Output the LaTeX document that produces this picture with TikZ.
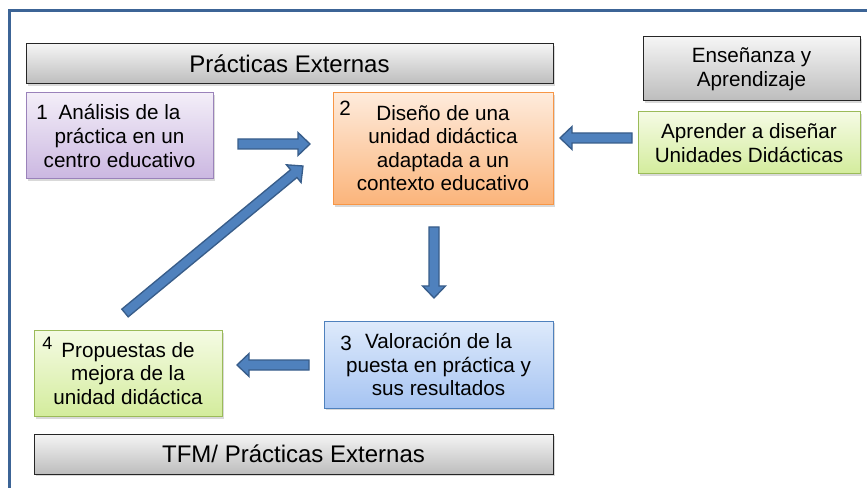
\documentclass[tikz,border=0pt]{standalone}
\usepackage{fontspec}
\setmainfont{Liberation Sans}
\usetikzlibrary{calc,shadows}

\definecolor{framebl}{HTML}{3C6496}
\definecolor{arrfill}{HTML}{4F81BD}
\definecolor{arrdraw}{HTML}{385D8A}
\definecolor{purtop}{HTML}{F3EEF8}
\definecolor{purbot}{HTML}{CBB7E1}
\definecolor{purdraw}{HTML}{9A82BA}
\definecolor{orgtop}{HTML}{FEEBDC}
\definecolor{orgbot}{HTML}{FBB47A}
\definecolor{orgdraw}{HTML}{F79646}
\definecolor{grntop}{HTML}{F5FBE4}
\definecolor{grnbot}{HTML}{D3EC9C}
\definecolor{grndraw}{HTML}{9BBB59}
\definecolor{blutop}{HTML}{DEEAFB}
\definecolor{blubot}{HTML}{A6C4F2}
\definecolor{bludraw}{HTML}{4F81BD}

% block arrow between two named coordinates
\newcommand{\blockarrow}[2]{%
  \coordinate (ba-c) at ($(#2)!9pt!(#1)$);
  \filldraw[blockarr] ($(#1)!3.75pt!90:(#2)$) -- ($(ba-c)!3.75pt!-90:(#1)$)
    -- ($(ba-c)!8.6pt!-90:(#1)$) -- (#2) -- ($(ba-c)!8.6pt!90:(#1)$)
    -- ($(ba-c)!3.75pt!90:(#1)$) -- ($(#1)!3.75pt!-90:(#2)$) -- cycle;
}

\tikzset{
  box/.style={draw, rectangle, inner sep=0pt, align=center, line width=0.75pt,
    font=\fontsize{15.5}{17.7}\selectfont,
    drop shadow={shadow xshift=1.2pt, shadow yshift=-1.5pt, opacity=0.3}},
  graybar/.style={box, draw=black!85, top color=black!4, bottom color=black!26,
    font=\fontsize{18}{21}\selectfont},
  graybox/.style={graybar, font=\fontsize{15.5}{17.7}\selectfont},
  purbox/.style={box, draw=purdraw, top color=purtop, bottom color=purbot},
  orgbox/.style={box, draw=orgdraw, top color=orgtop, bottom color=orgbot},
  grnbox/.style={box, draw=grndraw, top color=grntop, bottom color=grnbot},
  blubox/.style={box, draw=bludraw, top color=blutop, bottom color=blubot},
  num/.style={inner sep=0pt, anchor=base west, font=\fontsize{15.5}{17.7}\selectfont},
  blockarr/.style={fill=arrfill, draw=arrdraw, line width=1pt, line join=miter},
}

\begin{document}
\begin{tikzpicture}[x=0.75pt, y=-0.75pt]
    \useasboundingbox (0,0) rectangle (867,488);
    \draw[framebl, line width=2.25pt] (9,488) |- (867,11);

    \node[graybar, minimum width=395.25pt, minimum height=30pt] (ptop) at (289.5,64) {Prácticas Externas};
    \node[purbox, minimum width=140.25pt, minimum height=64.5pt] (n1) at (119.5,136) {Análisis de la\\práctica en un\\centro educativo};
    \node[orgbox, minimum width=165pt, minimum height=84pt, text depth=1.5pt] (n2) at (443,149) {Diseño de una\\unidad didáctica\\adaptada a un\\contexto educativo};
    \node[graybox, minimum width=162.75pt, minimum height=48pt] (ens) at (751.5,69) {Enseñanza y\\Aprendizaje};
    \node[grnbox, minimum width=166.5pt, minimum height=46.5pt] (apr) at (749,143) {Aprender a diseñar\\Unidades Didácticas};
    \node[blubox, minimum width=171.75pt, minimum height=65.25pt] (n3) at (438.5,364.5) {Valoración de la\\puesta en práctica y\\sus resultados};
    \node[grnbox, minimum width=141pt, minimum height=64.5pt] (n4) at (128,373.5) {Propuestas de\\mejora de la\\unidad didáctica};
    \node[graybar, minimum width=389.25pt, minimum height=30pt] (pbot) at (293.5,454) {TFM/ Prácticas Externas};

    \node[num] (k1) at (36,120) {1};
    \node[num] (k2) at (339,116) {2};
    \node[num] (k3) at (340,350) {3};
    \node[num, font=\fontsize{13.5}{15}\selectfont] (k4) at (42,349) {4};

    \coordinate (a1s) at (238,144);
    \coordinate (a1e) at (310,144);
    \coordinate (a2s) at (632,138);
    \coordinate (a2e) at (560,138);
    \coordinate (a3s) at (434,227);
    \coordinate (a3e) at (434,298);
    \coordinate (a4s) at (309,365);
    \coordinate (a4e) at (237,365);
    \coordinate (a5s) at (125,313);
    \coordinate (a5e) at (303,166);

    \blockarrow{a1s}{a1e}
    \blockarrow{a2s}{a2e}
    \blockarrow{a3s}{a3e}
    \blockarrow{a4s}{a4e}
    \blockarrow{a5s}{a5e}
\end{tikzpicture}
\end{document}
